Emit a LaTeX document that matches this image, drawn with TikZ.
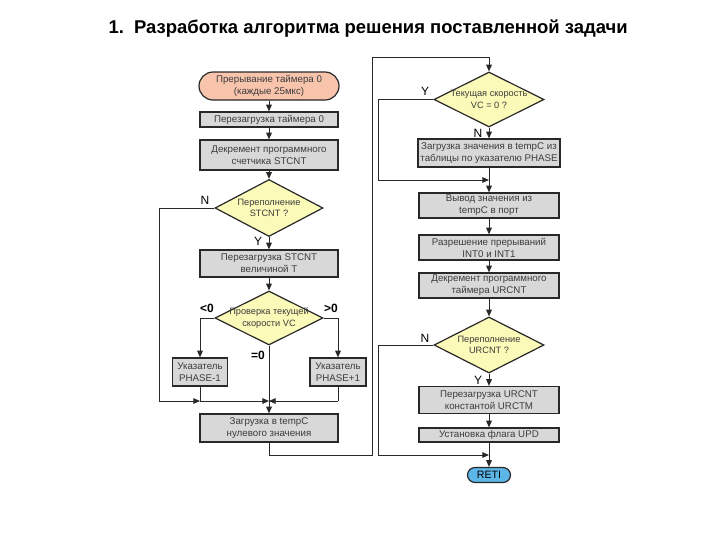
\documentclass[tikz,border=0pt]{standalone}
\usepackage{fontspec}
\setmainfont{Liberation Sans}
\usetikzlibrary{shapes.geometric,arrows.meta}
\definecolor{termfill}{RGB}{248,196,172}
\definecolor{boxgray}{RGB}{216,216,216}
\definecolor{diafill}{RGB}{252,250,184}
\definecolor{retiblue}{RGB}{92,182,232}
\definecolor{txtgray}{RGB}{60,60,60}
\definecolor{linecol}{RGB}{40,40,40}
\begin{document}
\begin{tikzpicture}[x=0.75pt,y=-0.75pt,
  every path/.style={line width=0.75pt},
  box/.style 2 args={rectangle, draw=linecol, fill=boxgray, line width=0.9pt,
    minimum width=#1*0.75pt, minimum height=#2*0.75pt, inner sep=0pt,
    align=center, font=\fontsize{7.3}{9}\selectfont, text=txtgray},
  term/.style 2 args={rectangle, rounded corners=#2*0.375pt, draw=linecol, line width=0.9pt,
    minimum width=#1*0.75pt, minimum height=#2*0.75pt, inner sep=0pt,
    align=center, font=\fontsize{7.3}{9}\selectfont, text=txtgray},
  dia/.style 2 args={diamond, draw=linecol, fill=diafill, line width=0.9pt,
    minimum width=#1*0.75pt, minimum height=#2*0.75pt, inner sep=0pt},
  dtext/.style={align=center, inner sep=0pt, font=\fontsize{6.9}{8.6}\selectfont, text=txtgray},
  lbl/.style={inner sep=0pt, font=\fontsize{9}{10}\selectfont, text=black},
  arr/.style={linecol, -{Triangle[length=5pt,width=4.2pt]}},
  ln/.style={linecol}
]
\useasboundingbox (0,0) rectangle (720,540);
\fill[white] (0,0) rectangle (720,540);

% title
\node[anchor=base west, inner sep=0pt, font=\fontsize{13.85}{16}\selectfont\bfseries] (title) at (108,33)
  {1.\ \ Разработка алгоритма решения поставленной задачи};

% ---------------- left column ----------------
\node[term={140}{28}, fill=termfill] (start) at (269,86) {Прерывание таймера 0\\(каждые 25мкс)};
\node[box={138}{15}] (b1) at (269,119.5) {Перезагрузка таймера 0};
\node[box={138}{30}] (b2) at (269,155) {Декремент программного\\счетчика STCNT};
\node[dia={108}{57}] (d1) at (269,208) {};
\node[dtext] (d1t) at (d1.center) {Переполнение\\STCNT ?};
\node[box={138}{27}] (b3) at (269,263.5) {Перезагрузка STCNT\\величиной T};
\node[dia={108}{54}] (d2) at (269,318) {};
\node[dtext] (d2t) at (d2.center) {Проверка текущей\\скорости VC};
\node[box={55}{28}] (pl) at (200,372) {Указатель\\PHASE-1};
\node[box={56}{28}] (pr) at (338,372) {Указатель\\PHASE+1};
\node[box={138}{28}] (b4) at (269,428) {Загрузка в tempC\\нулевого значения};

\coordinate (jN) at (159,401);
\coordinate (jL) at (200,401);
\coordinate (jC) at (269,401);
\coordinate (jR) at (338,401);
\coordinate (bot) at (269,455);
\coordinate (loopL) at (372,455);
\coordinate (loopT) at (372,57);

\draw[arr] (start) -- (b1);
\draw[arr] (b1) -- (b2);
\draw[arr] (b2) -- (d1);
\draw[arr] (d1) -- (b3);
\draw[arr] (b3) -- (d2);
\draw[ln] (d1.west) -| (jN);
\draw[arr] (jN) -- (jL);
\draw[arr] (d2.west) -| (pl.north);
\draw[arr] (d2.east) -| (pr.north);
\draw[ln] (pl.south) -- (jL);
\draw[arr] (jL) -- (jC);
\draw[ln] (pr.south) -- (jR);
\draw[arr] (jR) -- (jC);
\draw[arr] (d2.south) -- (b4.north);
\draw[ln] (b4.south) -- (bot) -- (loopL) -- (loopT);

\node[lbl] (lN1) at (205,200) {N};
\node[lbl] (lY1) at (258,241) {Y};
\node[lbl, font=\fontsize{9}{10}\selectfont\bfseries] (lLt) at (207,308) {<0};
\node[lbl, font=\fontsize{9}{10}\selectfont\bfseries] (lGt) at (331,308) {>0};
\node[lbl, font=\fontsize{9}{10}\selectfont\bfseries] (lEq) at (258,355) {=0};

% ---------------- right column ----------------
\node[dia={110}{55}] (d3) at (489,99.5) {};
\node[dtext] (d3t) at (d3.center) {Текущая скорость\\VC = 0 ?};
\node[box={142}{28}] (r1) at (489,153) {Загрузка значения в tempC из\\таблицы по указателю PHASE};
\node[box={140}{25}] (r2) at (489,205.5) {Вывод значения из\\tempC в порт};
\node[box={140}{25}] (r3) at (489,247.5) {Разрешение прерываний\\INT0 и INT1};
\node[box={140}{25}] (r4) at (489,285.5) {Декремент программного\\таймера URCNT};
\node[dia={110}{56}] (d4) at (489,345) {};
\node[dtext] (d4t) at (d4.center) {Переполнение\\URCNT ?};
\node[box={140}{27}] (r5) at (489,400) {Перезагрузка URCNT\\константой URCTM};
\node[box={140}{14}] (r6) at (489,435) {Установка флага UPD};
\node[term={43}{15}, fill=retiblue, text=black, font=\fontsize{8}{9}\selectfont] (reti) at (489,475) {RETI};

\coordinate (topR) at (489,57);
\coordinate (yL) at (378,180);
\coordinate (yJ) at (489,180);
\coordinate (nL) at (378,455);
\coordinate (nJ) at (489,455);

\draw[arr] (loopT) -- (topR) -- (d3.north);
\draw[ln] (d3.west) -| (yL);
\draw[arr] (yL) -- (yJ);
\draw[arr] (d3) -- (r1);
\draw[arr] (r1) -- (r2);
\draw[arr] (r2) -- (r3);
\draw[arr] (r3) -- (r4);
\draw[arr] (r4) -- (d4);
\draw[arr] (d4) -- (r5);
\draw[arr] (r5) -- (r6);
\draw[arr] (r6) -- (reti);
\draw[ln] (d4.west) -| (nL);
\draw[arr] (nL) -- (nJ);

\node[lbl] (lY3) at (425,91) {Y};
\node[lbl] (lN3) at (478,133) {N};
\node[lbl] (lN4) at (425,338) {N};
\node[lbl] (lY4) at (478,380) {Y};
\end{tikzpicture}
\end{document}
